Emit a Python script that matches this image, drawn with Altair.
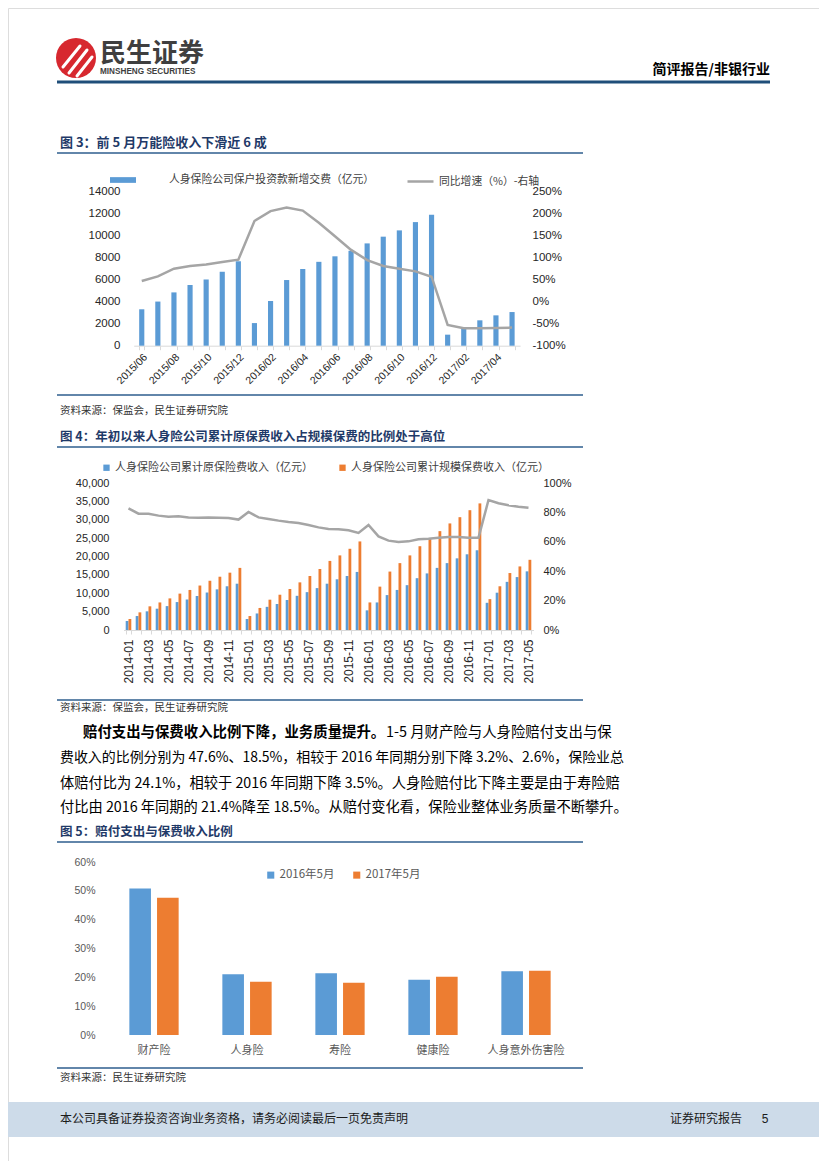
import altair as alt
import pandas as pd

# ---------------- data ----------------
months3 = ["2015/06", "2015/07", "2015/08", "2015/09", "2015/10", "2015/11", "2015/12",
           "2016/01", "2016/02", "2016/03", "2016/04", "2016/05", "2016/06", "2016/07",
           "2016/08", "2016/09", "2016/10", "2016/11", "2016/12",
           "2017/01", "2017/02", "2017/03", "2017/04", "2017/05"]
fees3 = [3300, 4000, 4830, 5500, 6000, 6700, 7650, 2050, 4050, 5950, 6950, 7600,
         8100, 8600, 9270, 9880, 10450, 11200, 11870, 1000, 1570, 2300, 2750, 3050]
growth3 = [46.5, 57, 74.5, 80.5, 84, 89.6, 94.9, 182.5, 205, 213, 206, 178.6,
           148, 117, 94, 80.5, 74.5, 68.4, 56.3, -53, -60.5, -60.5, -60, -59]

months4 = ["2014-01", "2014-02", "2014-03", "2014-04", "2014-05", "2014-06", "2014-07",
           "2014-08", "2014-09", "2014-10", "2014-11", "2014-12",
           "2015-01", "2015-02", "2015-03", "2015-04", "2015-05", "2015-06", "2015-07",
           "2015-08", "2015-09", "2015-10", "2015-11", "2015-12",
           "2016-01", "2016-02", "2016-03", "2016-04", "2016-05", "2016-06", "2016-07",
           "2016-08", "2016-09", "2016-10", "2016-11", "2016-12",
           "2017-01", "2017-02", "2017-03", "2017-04", "2017-05"]
orig4 = [2450, 3800, 5080, 5800, 6500, 7600, 8300, 9250, 10200, 11060, 11900, 12600,
         3000, 4500, 6300, 7070, 8160, 9300, 10300, 11400, 12600, 13800, 14700, 15800,
         5350, 7500, 9500, 10900, 12200, 14100, 15400, 16900, 18200, 19500, 20600, 21700,
         7400, 10150, 13100, 14400, 15960]
scale4 = [3000, 4800, 6440, 7500, 8600, 9900, 10900, 12100, 13400, 14500, 15600, 16900,
          3800, 6000, 8250, 9600, 11150, 12960, 14700, 16600, 18800, 20300, 22100, 24100,
          7500, 11800, 15900, 18200, 20300, 22800, 24900, 26900, 29000, 30700, 32600, 34450,
          8400, 11900, 15500, 17300, 19100]
ratio4 = [82.8, 79.1, 79.1, 77.8, 77.1, 77.3, 76.6, 76.4, 76.6, 76.4, 76.2, 75.1,
          80.3, 76.6, 75.5, 74.4, 73.5, 72.8, 71.4, 69.8, 68.7, 68.5, 67.8, 66.0,
          71.4, 63.7, 60.8, 59.9, 60.3, 61.7, 62.1, 62.8, 63.3, 63.3, 62.8, 62.8,
          88.4, 86.2, 84.8, 83.9, 83.2]

cats5 = ["财产险", "人身险", "寿险", "健康险", "人身意外伤害险"]
years5 = ["2016年5月", "2017年5月"]
claims2016 = [50.8, 21.1, 21.4, 19.2, 22.1]
claims2017 = [47.6, 18.5, 18.1, 20.2, 22.3]

bar_lab3 = "人身保险公司保户投资款新增交费（亿元）"
line_lab3 = "同比增速（%）-右轴"
lab4a = "人身保险公司累计原保险费收入（亿元）"
lab4b = "人身保险公司累计规模保费收入（亿元）"

# ---------------- style ----------------
W, H = 811, 1153
BLUE, ORANGE, GREY = "#5B9BD5", "#ED7D31", "#A5A5A5"
NAVY, RULE = "#1F3A68", "#2E5E8E"
CJK, LAT = "Noto Sans CJK SC", "Liberation Sans"


def P(v):
    return v - 8


def txt(t, x, y, size, color="#000000", weight="normal", font=CJK, align="left"):
    return alt.Chart().mark_text(text=t, align=align, baseline="middle", fontSize=size,
                                 fontWeight=weight, font=font, color=color).encode(
        x=alt.value(P(x)), y=alt.value(P(y)))


def hline(x1, x2, y, color, w):
    return alt.Chart().mark_rule(color=color, strokeWidth=w).encode(
        x=alt.value(P(x1)), x2=alt.value(P(x2)), y=alt.value(P(y)))


def seg(x1, y1, x2, y2, color, w):
    return alt.Chart().mark_rule(color=color, strokeWidth=w, strokeCap="round").encode(
        x=alt.value(P(x1)), x2=alt.value(P(x2)), y=alt.value(P(y1)), y2=alt.value(P(y2)))


layers = []

# ---------------- header ----------------
layers.append(alt.Chart().mark_point(shape="circle", filled=True, size=1600, color="#D7282F",
                                     opacity=1).encode(x=alt.value(P(76)), y=alt.value(P(58))))
layers += [seg(63, 67, 80, 46, "white", 3), seg(69, 73, 87, 50, "white", 3), seg(77, 76, 92, 57, "white", 3)]
layers.append(txt("民生证券", 100, 54, 26, "#3F3F3F", "bold"))
layers.append(txt("MINSHENG SECURITIES", 100, 72, 8.2, "#3F3F3F", "bold", LAT))
layers.append(txt("简评报告/非银行业", 770, 70, 14, "#000000", "bold", align="right"))
layers.append(hline(57, 770, 82, "#1F4E79", 3))

# ---------------- figure 3 ----------------
layers.append(txt("图 3：前 5 月万能险收入下滑近 6 成", 60, 143, 13, NAVY, "bold"))
layers.append(hline(57, 583, 153, RULE, 1.5))

df3 = pd.DataFrame({"month": months3, "fee": fees3, "growth": [g / 100 for g in growth3],
                    "bar": bar_lab3, "line": line_lab3})
X3 = [P(133.7), P(520.1)]
Y3 = [P(345.7), P(191.2)]

bars3 = alt.Chart(df3).mark_bar().encode(
    x=alt.X("month:N", scale=alt.Scale(domain=months3, range=X3, paddingInner=0.68, paddingOuter=0.34),
            axis=alt.Axis(orient="bottom", offset=P(345.7) - H, title=None, labelAngle=-45,
                          labelExpr="toNumber(substring(datum.label,5,7)) % 2 == 0 ? datum.label : ''",
                          labelOverlap=False, labelFont=LAT, labelFontSize=10.5, labelColor="#262626",
                          domainColor="#D9D9D9", tickColor="#D9D9D9", tickSize=4, tickBand="extent",
                          labelPadding=2, grid=False)),
    y=alt.Y("fee:Q", scale=alt.Scale(domain=[0, 14000], range=Y3, nice=False),
            axis=alt.Axis(orient="left", offset=-P(126), values=list(range(0, 14001, 2000)), format="d",
                          domain=False, ticks=False, grid=False, labelPadding=6, title=None,
                          labelFont=LAT, labelFontSize=11.5, labelColor="#262626")),
    color=alt.Color("bar:N", scale=alt.Scale(domain=[bar_lab3], range=[BLUE]),
                    legend=alt.Legend(orient="none", legendX=P(110), legendY=P(167), title=None,
                                      symbolType="M-1,-0.22H1V0.22H-1Z", symbolSize=676,
                                      symbolStrokeWidth=0, labelOffset=33, labelFont=CJK,
                                      labelFontSize=10.8, labelColor="#404040", padding=0,
                                      labelLimit=400)))

line3 = alt.Chart(df3).mark_line(strokeWidth=2.5).encode(
    x=alt.X("month:N", scale=alt.Scale(type="point", domain=months3, range=X3, padding=0.5), axis=None),
    y=alt.Y("growth:Q", scale=alt.Scale(domain=[-1, 2.5], range=Y3, nice=False, zero=False),
            axis=alt.Axis(orient="right", offset=P(526) - W, values=[-1, -0.5, 0, 0.5, 1, 1.5, 2, 2.5],
                          labelExpr="round(datum.value*100) + '%'", domain=False, ticks=False,
                          grid=False, labelPadding=6, title=None, labelFont=LAT,
                          labelFontSize=11.5, labelColor="#262626")),
    color=alt.Color("line:N", scale=alt.Scale(domain=[line_lab3], range=[GREY]),
                    legend=alt.Legend(orient="none", legendX=P(406), legendY=P(167), title=None,
                                      symbolType="stroke", symbolSize=676, symbolStrokeWidth=2.5,
                                      labelOffset=4, labelFont=CJK, labelFontSize=10.8,
                                      labelColor="#404040", padding=0, labelLimit=400)))
layers += [bars3, line3]

layers.append(hline(57, 583, 395, RULE, 1.5))
layers.append(txt("资料来源：保监会，民生证券研究院", 60, 411, 10.5, "#333333"))

# ---------------- figure 4 ----------------
layers.append(txt("图 4：年初以来人身险公司累计原保费收入占规模保费的比例处于高位", 60, 437, 12.5, NAVY, "bold"))
layers.append(hline(57, 583, 447, RULE, 1.5))

df4 = pd.DataFrame({"month": months4 + months4,
                    "series": [lab4a] * len(months4) + [lab4b] * len(months4),
                    "value": orig4 + scale4})
df4r = pd.DataFrame({"month": months4, "ratio": [r / 100 for r in ratio4]})
X4 = [P(123.5), P(533.5)]
Y4 = [P(630), P(483)]

bars4 = alt.Chart(df4).mark_bar().encode(
    x=alt.X("month:N", scale=alt.Scale(domain=months4, range=X4, paddingInner=0.44, paddingOuter=0.22),
            axis=alt.Axis(orient="bottom", offset=P(630) - H, title=None, labelAngle=-90,
                          labelExpr="toNumber(substring(datum.label,5,7)) % 2 == 1 ? datum.label : ''",
                          labelOverlap=False, labelFont=LAT, labelFontSize=12, labelColor="#262626",
                          domainColor="#D9D9D9", tickColor="#D9D9D9", tickSize=4, tickBand="extent",
                          labelPadding=5, grid=False)),
    xOffset=alt.XOffset("series:N", scale=alt.Scale(domain=[lab4a, lab4b], paddingInner=0.0, paddingOuter=0)),
    y=alt.Y("value:Q", scale=alt.Scale(domain=[0, 40000], range=Y4, nice=False),
            axis=alt.Axis(orient="left", offset=-P(114), values=list(range(0, 40001, 5000)), format=",d",
                          domain=False, ticks=False, grid=False, labelPadding=5, title=None,
                          labelFont=LAT, labelFontSize=11, labelColor="#262626")),
    color=alt.Color("series:N", scale=alt.Scale(domain=[lab4a, lab4b], range=[BLUE, ORANGE]),
                    legend=alt.Legend(orient="none", direction="horizontal", legendX=P(101), legendY=P(462),
                                      title=None, symbolType="square", symbolSize=40, symbolStrokeWidth=0,
                                      labelOffset=3, columnPadding=24, labelFont=CJK, labelFontSize=11,
                                      labelColor="#404040", padding=0, labelLimit=400)))

line4 = alt.Chart(df4r).mark_line(color=GREY, strokeWidth=2.5).encode(
    x=alt.X("month:N", scale=alt.Scale(type="point", domain=months4, range=X4, padding=0.5), axis=None),
    y=alt.Y("ratio:Q", scale=alt.Scale(domain=[0, 1], range=Y4, nice=False),
            axis=alt.Axis(orient="right", offset=P(537) - W, values=[0, 0.2, 0.4, 0.6, 0.8, 1],
                          labelExpr="round(datum.value*100) + '%'", domain=False, ticks=False,
                          grid=False, labelPadding=6, title=None, labelFont=LAT,
                          labelFontSize=11, labelColor="#262626")))
layers += [bars4, line4]

layers.append(hline(57, 583, 700, RULE, 1.5))
layers.append(txt("资料来源：保监会，民生证券研究院", 60, 708, 10.5, "#333333"))

# ---------------- paragraph ----------------
layers.append(txt("赔付支出与保费收入比例下降，业务质量提升。", 83, 733, 14.4, "#000000", "bold"))
layers.append(txt("1-5 月财产险与人身险赔付支出与保", 386, 733, 14.4))
layers.append(txt("费收入的比例分别为 47.6%、18.5%，相较于 2016 年同期分别下降 3.2%、2.6%，保险业总", 60, 758, 13.95))
layers.append(txt("体赔付比为 24.1%，相较于 2016 年同期下降 3.5%。人身险赔付比下降主要是由于寿险赔", 60, 784, 14.25))
layers.append(txt("付比由 2016 年同期的 21.4%降至 18.5%。从赔付变化看，保险业整体业务质量不断攀升。", 60, 808, 14.25))

# ---------------- figure 5 ----------------
layers.append(txt("图 5：赔付支出与保费收入比例", 60, 832, 12.5, NAVY, "bold"))
layers.append(hline(57, 583, 842, RULE, 1.5))

df5 = pd.DataFrame({"cat": cats5 + cats5,
                    "year": [years5[0]] * len(cats5) + [years5[1]] * len(cats5),
                    "ratio": [v / 100 for v in claims2016 + claims2017]})
X5 = [P(107.5), P(572.5)]
Y5 = [P(1035), P(862)]

bars5 = alt.Chart(df5).mark_bar().encode(
    x=alt.X("cat:N", scale=alt.Scale(domain=cats5, range=X5, paddingInner=0.47, paddingOuter=0.235),
            axis=alt.Axis(orient="bottom", offset=P(1035) - H, title=None, labelAngle=0, domain=False,
                          ticks=False, labelPadding=9, labelFont=CJK, labelFontSize=11,
                          labelColor="#595959", grid=False)),
    xOffset=alt.XOffset("year:N", scale=alt.Scale(domain=years5, paddingInner=0.22, paddingOuter=0)),
    y=alt.Y("ratio:Q", scale=alt.Scale(domain=[0, 0.6], range=Y5, nice=False),
            axis=alt.Axis(orient="left", offset=-P(100), values=[0, 0.1, 0.2, 0.3, 0.4, 0.5, 0.6],
                          labelExpr="round(datum.value*100) + '%'", domain=False, ticks=False,
                          grid=False, labelPadding=5, title=None, labelFont=LAT,
                          labelFontSize=10.5, labelColor="#595959")),
    color=alt.Color("year:N", scale=alt.Scale(domain=years5, range=[BLUE, ORANGE]),
                    legend=alt.Legend(orient="none", direction="horizontal", legendX=P(265), legendY=P(869),
                                      title=None, symbolType="square", symbolSize=50, symbolStrokeWidth=0,
                                      labelOffset=3, columnPadding=16, labelFont=CJK, labelFontSize=11.5,
                                      labelColor="#595959", padding=0)))
layers.append(bars5)

layers.append(hline(57, 583, 1068, RULE, 1.5))
layers.append(txt("资料来源：民生证券研究院", 60, 1078, 10.5, "#333333"))

# ---------------- footer ----------------
layers.append(alt.Chart().mark_rect(color="#CDDBE9").encode(
    x=alt.value(0), x2=alt.value(W), y=alt.value(P(1102)), y2=alt.value(P(1137))))
layers.append(txt("本公司具备证券投资咨询业务资格，请务必阅读最后一页免责声明", 60, 1119, 12, "#1A1A1A"))
layers.append(txt("证券研究报告", 742, 1119, 12, "#1A1A1A", align="right"))
layers.append(txt("5", 765, 1119, 12, "#1A1A1A", font=LAT, align="center"))

chart = alt.layer(*layers, data=pd.DataFrame({"d": [0]})).resolve_scale(
    x="independent", y="independent", color="independent", xOffset="independent"
).properties(
    width=W, height=H, autosize=alt.AutoSizeParams(type="none"), padding=0
).configure_view(strokeWidth=0).configure(background="white")

chart.save("out.html", embed_options={"renderer": "svg", "actions": False})
